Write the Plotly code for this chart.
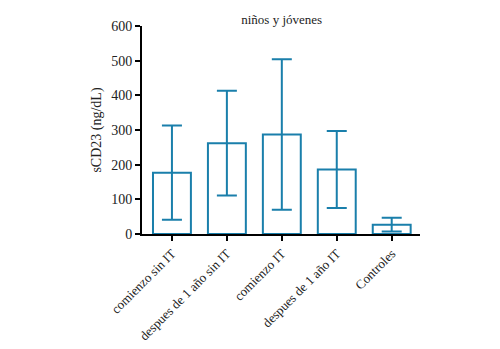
import plotly.graph_objects as go

categories = ["comienzo sin IT", "despues de 1 año sin IT", "comienzo IT", "despues de 1 año IT", "Controles"]
means = [177, 262, 287, 186, 27]
errors = [136, 151, 217, 111, 20]
y_ticks = [0, 100, 200, 300, 400, 500, 600]

blue = "#1a7fab"
font_family = "Liberation Serif"

fig = go.Figure()
fig.add_trace(go.Bar(
    x=list(range(len(categories))),
    y=means,
    width=0.69,
    marker=dict(color="rgba(255,255,255,0)", line=dict(color=blue, width=2)),
    error_y=dict(type="data", array=errors, visible=True, color=blue, thickness=2, width=10),
))

fig.update_layout(
    width=500, height=349,
    margin=dict(l=142, r=80, t=26, b=115),
    plot_bgcolor="white", paper_bgcolor="white",
    showlegend=False,
    font=dict(family=font_family, color="#222222", size=14),
    title=dict(text="niños y jóvenes", x=281.7 / 500, xanchor="center",
               y=1 - 19 / 349, yanchor="middle", font=dict(size=13, family=font_family)),
    xaxis=dict(
        range=[-0.545, 4.515], automargin=False,
        tickmode="array", tickvals=list(range(len(categories))), ticktext=categories,
        tickangle=-45, ticks="outside", ticklen=5, tickwidth=2, tickcolor="black",
        showline=True, linecolor="black", linewidth=2, showgrid=False, zeroline=False,
        tickfont=dict(size=13, family=font_family),
    ),
    yaxis=dict(
        range=[0, 600], automargin=False,
        tickmode="array", tickvals=y_ticks,
        ticks="outside", ticklen=5, tickwidth=2, tickcolor="black",
        showline=True, linecolor="black", linewidth=2, showgrid=False, zeroline=False,
        tickfont=dict(size=14, family=font_family),
        title=dict(text="sCD23 (ng/dL)", font=dict(size=14, family=font_family), standoff=6),
    ),
)

fig.write_html("out.html")
